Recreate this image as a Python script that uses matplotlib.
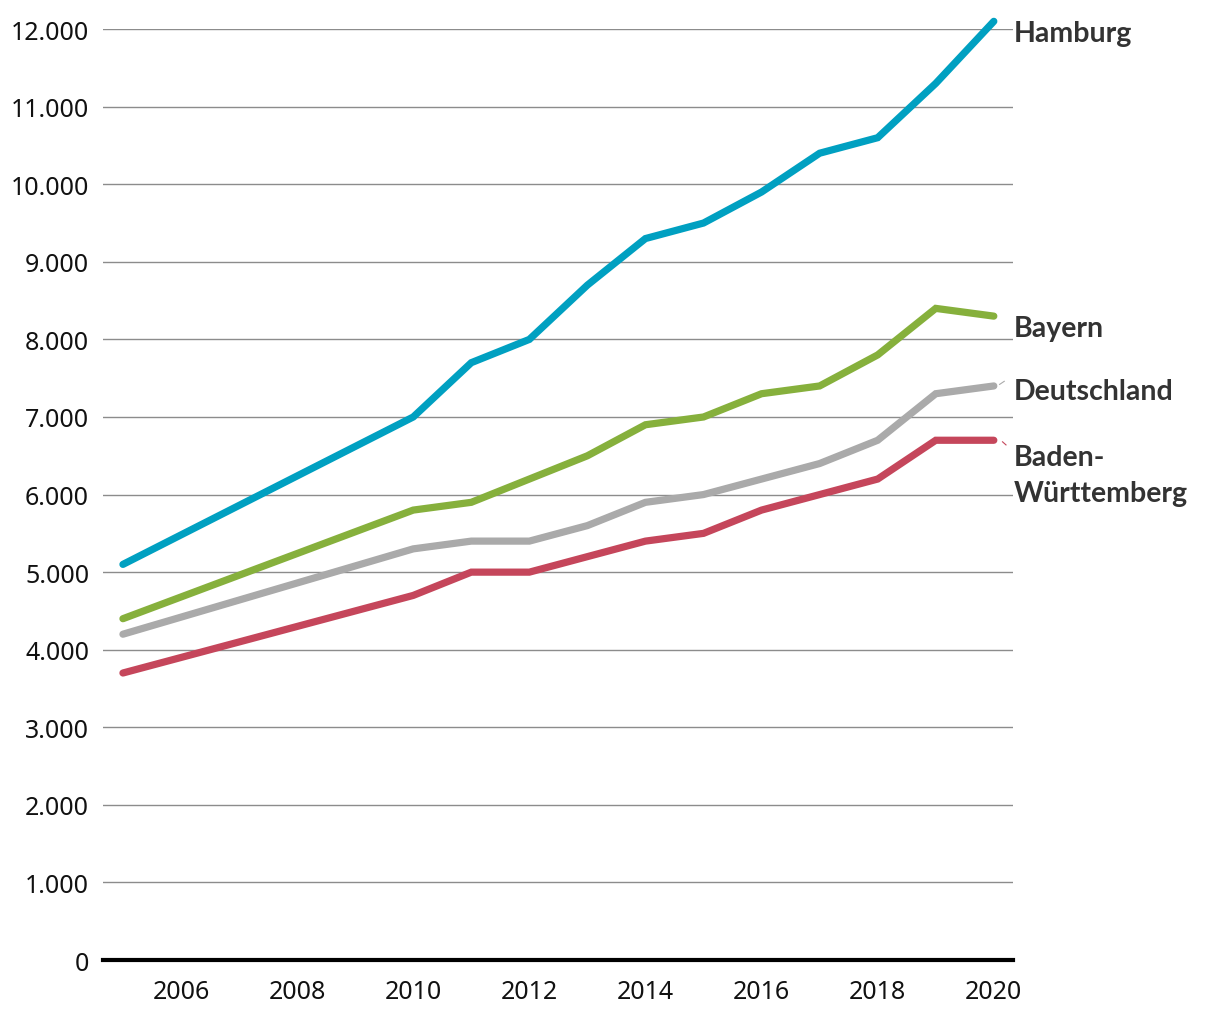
import matplotlib
matplotlib.use("Agg")
import matplotlib.pyplot as plt

years = [2005, 2010, 2011, 2012, 2013, 2014, 2015, 2016, 2017, 2018, 2019, 2020]
hamburg = [5100, 7000, 7700, 8000, 8700, 9300, 9500, 9900, 10400, 10600, 11300, 12100]
bayern = [4400, 5800, 5900, 6200, 6500, 6900, 7000, 7300, 7400, 7800, 8400, 8300]
deutschland = [4200, 5300, 5400, 5400, 5600, 5900, 6000, 6200, 6400, 6700, 7300, 7400]
bw = [3700, 4700, 5000, 5000, 5200, 5400, 5500, 5800, 6000, 6200, 6700, 6700]

series = [
    ("Hamburg", hamburg, "#00a0c1"),
    ("Bayern", bayern, "#86b03c"),
    ("Deutschland", deutschland, "#aaaaaa"),
    ("Baden-\nWürttemberg", bw, "#c5465b"),
]
label_y = {"Hamburg": 11950, "Bayern": 8150, "Deutschland": 7330, "Baden-\nWürttemberg": 6250}

yticks = list(range(0, 12001, 1000))
ytick_labels = ["0"] + [f"{v//1000}.000" for v in yticks[1:]]
xticks = list(range(2006, 2021, 2))

plt.rcParams['font.family'] = ['Noto Sans', 'DejaVu Sans']

fig = plt.figure(figsize=(12.2, 10.2), dpi=100)
ax = fig.add_axes([0.0844, 0.0578, 0.7459, 0.9127])
ax.set_xlim(2004.656, 2020.33)
ax.set_ylim(0, 12000)

for y in yticks[1:]:
    ax.axhline(y, color="#8c8c8c", lw=1.0, zorder=1)
ax.axhline(0, color="black", lw=3, zorder=3, clip_on=False)

for name, vals, col in series:
    ax.plot(years, vals, color=col, lw=5.2, solid_capstyle="round",
            solid_joinstyle="miter", zorder=2, clip_on=False)
    ax.text(2020.34, label_y[name], name, fontsize=20.5, fontweight="bold",
            family=["Lato", "Open Sans", "DejaVu Sans"],
            color="#333333", va="center", ha="left", linespacing=1.5,
            transform=ax.transData, clip_on=False)

# small connector marks
ax.plot([2020.1, 2020.18], [7420, 7460], color="#aaaaaa", lw=0.8, clip_on=False)
ax.plot([2020.15, 2020.21], [6680, 6640], color="#c5465b", lw=0.8, clip_on=False)

for s in ax.spines.values():
    s.set_visible(False)
ax.set_yticks(yticks)
ax.set_yticklabels(ytick_labels, fontsize=18, color="#111111")
ax.set_xticks(xticks)
ax.set_xticklabels([str(x) for x in xticks], fontsize=18, color="#111111")
ax.tick_params(axis="both", length=0)
ax.tick_params(axis="y", pad=10)
ax.tick_params(axis="x", pad=14)

fig.savefig("out.png", dpi=100)
